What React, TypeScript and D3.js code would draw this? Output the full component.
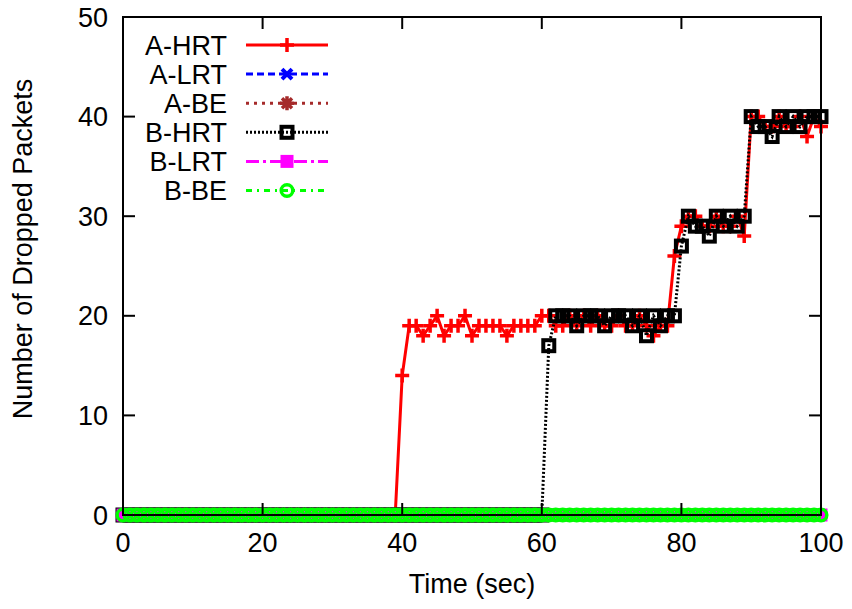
import React from "react"
import * as d3 from "d3"

const W = 852
const H = 609

// seconds 0..100
const time = d3.range(0, 101)

// A-HRT values from 39 s on (before that all 0)
const aHrtTail = [
  0, 14, 19, 19, 18, 19, 20, 18, 19, 19, 20, 18, 19, 19, 19, 19, 18, 19, 19, 19, 19, 20,
  20, 19, 19, 20, 19, 20, 19, 20, 19, 19, 20, 19, 19, 20, 19, 18, 19, 19,
  26, 29, 30, 30, 29, 29, 30, 29, 29, 30, 28,
  40, 40, 39, 39, 40, 39, 39, 40, 38, 40, 39,
]
// B-HRT values from 60 s on
const bHrtTail = [
  0, 17, 20, 20, 20, 19, 20, 20, 20, 19, 20, 20, 20, 19, 20, 18, 20, 19, 20, 20,
  27, 30, 29, 29, 28, 30, 29, 30, 29, 30,
  40, 39, 39, 38, 40, 39, 40, 39, 40, 40, 40,
]
const zeros = time.map(() => 0)
const aHrt = time.map((t) => (t < 39 ? 0 : aHrtTail[t - 39]))
const bHrt = time.map((t) => (t < 60 ? 0 : bHrtTail[t - 60]))

const xTicks = [0, 20, 40, 60, 80, 100]
const yTicks = [0, 10, 20, 30, 40, 50]

type Series = {
  name: string
  values: number[]
  color: string
  dash: string
  marker: string
}

const series: Series[] = [
  { name: "A-HRT", values: aHrt, color: "#ff0000", dash: "", marker: "plus" },
  { name: "A-LRT", values: zeros, color: "#0000ff", dash: "7,4", marker: "cross" },
  { name: "A-BE", values: zeros, color: "#a52a2a", dash: "3,5", marker: "star" },
  { name: "B-HRT", values: bHrt, color: "#000000", dash: "2,2", marker: "square" },
  { name: "B-LRT", values: zeros, color: "#ff00ff", dash: "13,4,3,4", marker: "fsquare" },
  { name: "B-BE", values: zeros, color: "#00ff00", dash: "6,5,2,5", marker: "circle" },
]

const margin = { left: 123, right: 31, top: 17, bottom: 94 }
const font = "Liberation Sans, Arial, Helvetica, sans-serif"

function Marker({ kind, x, y, color }: { kind: string; x: number; y: number; color: string }) {
  const s = 7
  const sw = 3.5
  if (kind === "plus")
    return <path d={`M${x - s},${y}H${x + s}M${x},${y - s}V${y + s}`} stroke={color} strokeWidth={sw} fill="none" />
  if (kind === "cross")
    return <path d={`M${x - 5},${y - 5}L${x + 5},${y + 5}M${x - 5},${y + 5}L${x + 5},${y - 5}`} stroke={color} strokeWidth={4} fill="none" />
  if (kind === "star")
    return (
      <path
        d={`M${x - s},${y}H${x + s}M${x},${y - s}V${y + s}M${x - 5},${y - 5}L${x + 5},${y + 5}M${x - 5},${y + 5}L${x + 5},${y - 5}`}
        stroke={color}
        strokeWidth={3.5}
        fill="none"
      />
    )
  if (kind === "square")
    return <rect x={x - 5.5} y={y - 5.5} width={11} height={11} stroke={color} strokeWidth={4} fill="none" />
  if (kind === "fsquare")
    return <rect x={x - 6.5} y={y - 6.5} width={13} height={13} fill={color} />
  return <circle cx={x} cy={y} r={5.8} stroke={color} strokeWidth={3.5} fill="none" />
}

export default function App() {
  const x = d3.scaleLinear().domain([0, 100]).range([margin.left, W - margin.right])
  const y = d3.scaleLinear().domain([0, 50]).range([H - margin.bottom, margin.top])
  const line = d3
    .line<number>()
    .x((_, i) => x(time[i]))
    .y((d) => y(d))

  const x0 = x(0)
  const x1 = x(100)
  const y0 = y(0)
  const y1 = y(50)
  const tick = 12

  return (
    <svg width={W} height={H} style={{ position: "absolute", left: 0, top: 0, background: "#fff" }} fontFamily={font}>
      {/* series */}
      {series.map((s) => (
        <g key={s.name}>
          <path d={line(s.values) || ""} stroke={s.color} strokeWidth={3} strokeDasharray={s.dash} fill="none" />
          {s.values.map((v, i) => (
            <Marker key={i} kind={s.marker} x={x(time[i])} y={y(v)} color={s.color} />
          ))}
        </g>
      ))}

      {/* frame and ticks */}
      <rect x={x0} y={y1} width={x1 - x0} height={y0 - y1} fill="none" stroke="#000" strokeWidth={2} />
      {xTicks.map((t) => (
        <g key={"x" + t}>
          <line x1={x(t)} x2={x(t)} y1={y0} y2={y0 - tick} stroke="#000" strokeWidth={2} />
          <line x1={x(t)} x2={x(t)} y1={y1} y2={y1 + tick} stroke="#000" strokeWidth={2} />
          <text x={x(t)} y={552} textAnchor="middle" fontSize={27}>
            {t}
          </text>
        </g>
      ))}
      {yTicks.map((t) => (
        <g key={"y" + t}>
          <line x1={x0} x2={x0 + tick} y1={y(t)} y2={y(t)} stroke="#000" strokeWidth={2} />
          <line x1={x1} x2={x1 - tick} y1={y(t)} y2={y(t)} stroke="#000" strokeWidth={2} />
          <text x={108} y={y(t) + 9.5} textAnchor="end" fontSize={27}>
            {t}
          </text>
        </g>
      ))}

      {/* axis labels */}
      <text x={(x0 + x1) / 2} y={593} textAnchor="middle" fontSize={27}>
        Time (sec)
      </text>
      <text transform={`translate(32,${249}) rotate(-90)`} textAnchor="middle" fontSize={27}>
        Number of Dropped Packets
      </text>

      {/* legend */}
      {series.map((s, i) => {
        const cy = 45 + i * 29.1
        return (
          <g key={"l" + s.name}>
            <text x={227} y={cy + 9.5} textAnchor="end" fontSize={27}>
              {s.name}
            </text>
            <line x1={246} x2={328} y1={cy} y2={cy} stroke={s.color} strokeWidth={3} strokeDasharray={s.dash} />
            <Marker kind={s.marker} x={287} y={cy} color={s.color} />
          </g>
        )
      })}
    </svg>
  )
}
